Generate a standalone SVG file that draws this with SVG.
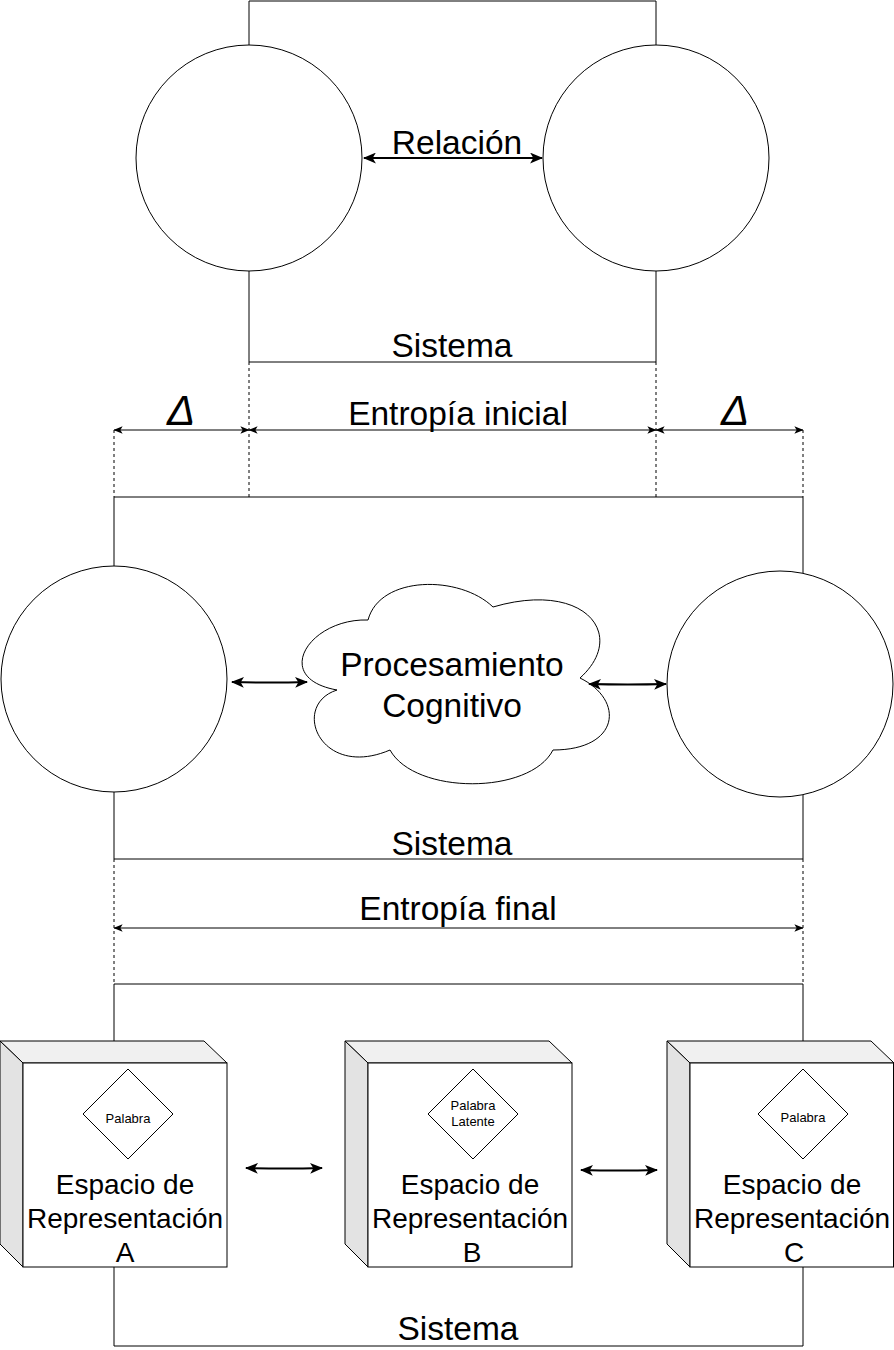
<svg xmlns="http://www.w3.org/2000/svg" width="894" height="1350" viewBox="0 0 894 1350">
<style>
.ln{fill:none;stroke:#000;stroke-width:1}
.dash{fill:none;stroke:#000;stroke-width:1;stroke-dasharray:3 3}
.circ{fill:#fff;stroke:#000;stroke-width:1}
.thick{fill:none;stroke:#000;stroke-width:2}
.thin{fill:none;stroke:#000;stroke-width:1}
.t{font-family:"Liberation Sans",Arial,sans-serif;fill:#000;text-anchor:middle}
.big{font-size:33.5px}
.mid{font-size:28px}
.sm{font-size:13px}
.delta{font-size:42px;font-style:italic}
.front{fill:#fff;stroke:#000;stroke-width:1}
.top{fill:#f0f0f0;stroke:#000;stroke-width:1;stroke-linejoin:round}
.side{fill:#e3e3e3;stroke:#000;stroke-width:1;stroke-linejoin:round}
.dia{fill:#fff;stroke:#000;stroke-width:1}
</style>
<defs>
<marker id="ab" viewBox="0 0 12 10" refX="11" refY="5" markerWidth="13" markerHeight="11" markerUnits="userSpaceOnUse" orient="auto-start-reverse">
<path d="M0,0 L12,5 L0,10 L3,5 Z" fill="#000"/>
</marker>
<marker id="as" viewBox="0 0 12 10" refX="11.5" refY="5" markerWidth="9" markerHeight="8" markerUnits="userSpaceOnUse" orient="auto-start-reverse">
<path d="M0,0 L12,5 L0,10 L3,5 Z" fill="#000"/>
</marker>
</defs>

<g id="frames">
<path class="ln" d="M249,46 V1 H656 V46"/>
<path class="ln" d="M249,271 V362 H656 V271"/>
<path class="ln" d="M114,566 V497 H803 V573"/>
<path class="ln" d="M114,792 V859 H803 V795"/>
<path class="ln" d="M114,1041 V984 H803 V1041"/>
<path class="ln" d="M114,1267 V1346 H803 V1267"/>
</g>

<g id="circle-top-left"><circle class="circ" cx="249" cy="158" r="113"/></g>
<g id="circle-top-right"><circle class="circ" cx="656" cy="158" r="113"/></g>
<g id="circle-mid-left"><circle class="circ" cx="114" cy="679" r="113"/></g>
<g id="circle-mid-right"><circle class="circ" cx="780" cy="684" r="113"/></g>

<g id="cloud">
<path class="circ" d="M368,620 C310,618 270,678 337,690 C290,705 320,780 390,750 C415,795 530,795 553,750 C620,750 625,700 580,678 C628,635 585,580 493,607 C460,575 380,575 368,620 Z"/>
<text class="t big" x="452" y="676">Procesamiento</text>
<text class="t big" x="452" y="717">Cognitivo</text>
</g>

<g id="cube-a">
<polygon class="top" points="0,1041 204,1041 227,1063 23,1063"/>
<polygon class="side" points="0,1041 23,1063 23,1267 0,1244"/>
<rect class="front" x="23" y="1063" width="204" height="204"/>
<polygon class="dia" points="128,1069 173,1114 128,1159 83,1114"/>
<text class="t sm" x="128" y="1123">Palabra</text>
<text class="t mid" x="125" y="1194">Espacio de</text>
<text class="t mid" x="125" y="1228">Representación</text>
<text class="t mid" x="125" y="1262">A</text>
</g>

<g id="cube-b">
<polygon class="top" points="345,1041 549,1041 572,1063 368,1063"/>
<polygon class="side" points="345,1041 368,1063 368,1267 345,1244"/>
<rect class="front" x="368" y="1063" width="204" height="204"/>
<polygon class="dia" points="473,1069 518,1114 473,1159 428,1114"/>
<text class="t sm" x="473" y="1110">Palabra</text>
<text class="t sm" x="473" y="1126">Latente</text>
<text class="t mid" x="470" y="1194">Espacio de</text>
<text class="t mid" x="470" y="1228">Representación</text>
<text class="t mid" x="472" y="1262">B</text>
</g>

<g id="cube-c">
<polygon class="top" points="667,1041 871,1041 894,1063 690,1063"/>
<polygon class="side" points="667,1041 690,1063 690,1267 667,1244"/>
<rect class="front" x="690" y="1063" width="203.5" height="204"/>
<polygon class="dia" points="803,1069 848,1114 803,1159 758,1114"/>
<text class="t sm" x="803" y="1122">Palabra</text>
<text class="t mid" x="792" y="1194">Espacio de</text>
<text class="t mid" x="792" y="1228">Representación</text>
<text class="t mid" x="794" y="1262">C</text>
</g>

<g id="connectors">
<line class="thick" x1="364" y1="158" x2="542" y2="158" marker-start="url(#ab)" marker-end="url(#ab)"/>
<line class="dash" x1="249" y1="362" x2="249" y2="500"/>
<line class="dash" x1="656" y1="362" x2="656" y2="497"/>
<line class="dash" x1="114" y1="430" x2="114" y2="497"/>
<line class="dash" x1="803" y1="430" x2="803" y2="497"/>
<line class="thin" x1="114" y1="430" x2="249" y2="430" marker-start="url(#as)" marker-end="url(#as)"/>
<line class="thin" x1="249" y1="430" x2="656" y2="430" marker-start="url(#as)" marker-end="url(#as)"/>
<line class="thin" x1="656" y1="430" x2="803" y2="430" marker-start="url(#as)" marker-end="url(#as)"/>
<path class="thick" d="M232,682 Q270,683 307,682" marker-start="url(#ab)" marker-end="url(#ab)"/>
<path class="thick" d="M589,684 Q628,685 666,684" marker-start="url(#ab)" marker-end="url(#ab)"/>
<line class="dash" x1="114" y1="859" x2="114" y2="984"/>
<line class="dash" x1="803" y1="859" x2="803" y2="984"/>
<line class="thin" x1="114" y1="928" x2="803" y2="928" marker-start="url(#as)" marker-end="url(#as)"/>
<path class="thick" d="M246,1168 Q284,1169 322,1168" marker-start="url(#ab)" marker-end="url(#ab)"/>
<path class="thick" d="M581,1170 Q619,1171 657,1170" marker-start="url(#ab)" marker-end="url(#ab)"/>
</g>

<g id="labels">
<text class="t big" x="457" y="154">Relación</text>
<text class="t big" x="452" y="357">Sistema</text>
<text class="t delta" x="181" y="425">Δ</text>
<text class="t big" x="458" y="425">Entropía inicial</text>
<text class="t delta" x="735" y="425">Δ</text>
<text class="t big" x="452" y="855">Sistema</text>
<text class="t big" x="458" y="920">Entropía final</text>
<text class="t big" x="458" y="1340">Sistema</text>
</g>
</svg>
